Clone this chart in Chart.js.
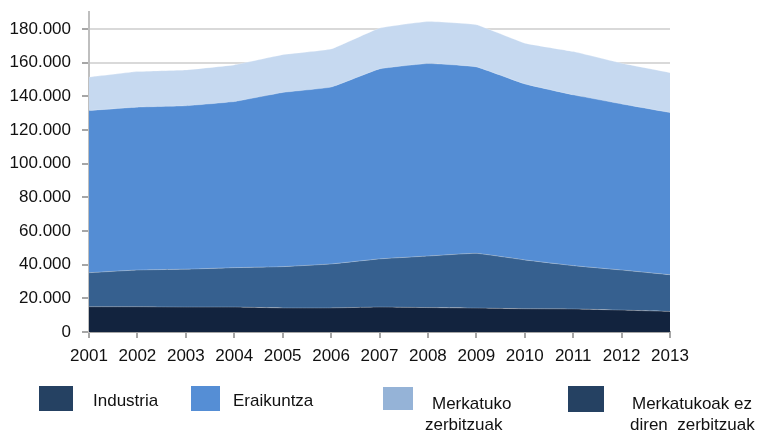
<!DOCTYPE html>
<html>
<head>
<meta charset="utf-8">
<script src="https://cdn.jsdelivr.net/npm/chart.js@4"></script>
<style>
  body { margin: 0; background: #fff; font-family: "Liberation Sans", Arial, sans-serif; }
  #wrap { position: relative; width: 765px; height: 432px; }
  .sw { position: absolute; width: 32px; height: 25px; }
  .lt { position: absolute; font-size: 17px; color: #111; line-height: 22px; white-space: pre; }
</style>
</head>
<body>
<div id="wrap">
  <canvas id="chart" width="765" height="432"></canvas>
  <div class="sw" style="left:39px;top:386px;width:34px;background:#254162"></div>
  <div class="lt" style="left:93px;top:390px">Industria</div>
  <div class="sw" style="left:191px;top:386px;width:29px;background:#558ed5"></div>
  <div class="lt" style="left:233px;top:390px">Eraikuntza</div>
  <div class="sw" style="left:383px;top:387px;width:30px;height:23px;background:#95b3d7"></div>
  <div class="lt" style="left:432px;top:393px">Merkatuko</div>
  <div class="lt" style="left:425px;top:414px">zerbitzuak</div>
  <div class="sw" style="left:568px;top:386px;width:36px;height:26px;background:#254162"></div>
  <div class="lt" style="left:632px;top:393px">Merkatukoak ez</div>
  <div class="lt" style="left:630px;top:414px">diren  zerbitzuak</div>
</div>
<script>
// urteak eta sektoreak (pilatuta)
const years = ['2001','2002','2003','2004','2005','2006','2007','2008','2009','2010','2011','2012','2013']
const yTicks = [0,20000,40000,60000,80000,100000,120000,140000,160000,180000]
const industria = [15000,15000,14800,14800,14300,14300,14800,14500,14200,13800,13700,13000,12200]
const eraikuntza = [20200,21800,22500,23400,24500,26100,28600,30600,32500,29000,25700,23800,21800]
const merkatuko = [96300,96700,97000,98600,103400,105000,112800,114300,110700,104500,101400,98600,96300]
const ezMerkatuko = [19800,21100,21300,21800,22400,22600,24200,24900,25000,24200,25700,24200,23700]

function fmt(v) {
    return v.toString().replace(/\B(?=(\d{3})+(?!\d))/g, '.')
}

function layer(label, data, color, fill) {
    return {
        label: label,
        data: data,
        backgroundColor: color,
        borderColor: 'rgba(255,255,255,0.25)',
        borderWidth: 1,
        pointRadius: 0,
        tension: 0.1,
        fill: fill
    }
}

const ctx = document.getElementById('chart')
new Chart(ctx, {
    type: 'line',
    data: {
        labels: years,
        datasets: [
            layer('Industria', industria, '#12233e', 'origin'),
            layer('Eraikuntza', eraikuntza, '#36608f', '-1'),
            layer('Merkatuko zerbitzuak', merkatuko, '#548dd4', '-1'),
            layer('Merkatukoak ez diren zerbitzuak', ezMerkatuko, '#c6d9f0', '-1')
        ]
    },
    options: {
        responsive: false,
        animation: false,
        layout: { padding: { top: 12, right: 95, bottom: 60, left: 0 } },
        plugins: {
            legend: { display: false },
            tooltip: { enabled: false }
        },
        scales: {
            x: {
                offset: false,
                afterFit: s => { s.height = 40; s.paddingLeft = 0; s.paddingRight = 0 },
                grid: { drawOnChartArea: false, color: '#a6a6a6', tickLength: 6, lineWidth: 2 },
                border: { color: '#a6a6a6', width: 2 },
                ticks: { color: '#111', padding: 8, maxRotation: 0, font: { family: 'Liberation Sans', size: 17 } }
            },
            y: {
                stacked: true,
                min: 0,
                max: 190000,
                afterFit: s => { s.width = 89; s.paddingTop = 0; s.paddingBottom = 0 },
                afterBuildTicks: s => { s.ticks = yTicks.map(v => ({ value: v })) },
                grid: { color: '#d9d9d9', lineWidth: 2, tickLength: 7, tickColor: '#a6a6a6' },
                border: { color: '#bfbfbf', width: 2 },
                ticks: {
                    color: '#111',
                    padding: 11,
                    font: { family: 'Liberation Sans', size: 17 },
                    callback: v => fmt(v)
                }
            }
        }
    }
})
</script>
</body>
</html>
